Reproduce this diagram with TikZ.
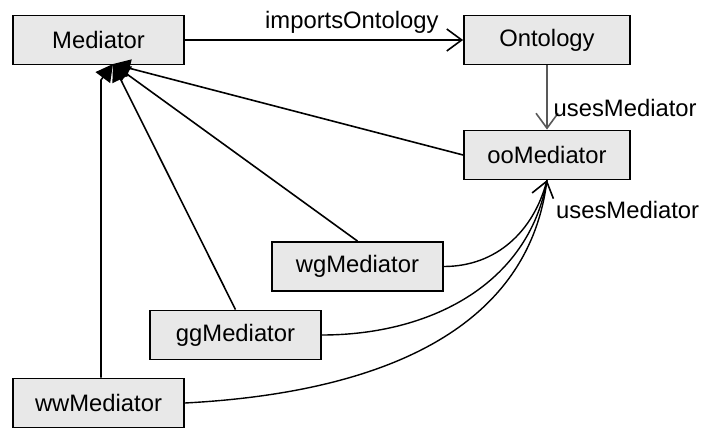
\documentclass[tikz,border=0pt]{standalone}
\usepackage{fontspec}
\setmainfont{Liberation Sans}
\usetikzlibrary{arrows.meta}
\begin{document}
\begin{tikzpicture}[x=1pt,y=-1pt,
  font=\fontsize{23.8}{28}\selectfont,
  box/.style={draw,line width=1.8pt,fill=black!9,inner sep=0pt,minimum height=49pt},
  open/.style={-{Straight Barb[length=15pt,width=22pt,line width=1.6pt]}},
  gen/.style={-{Triangle[length=17pt,width=18pt]},line width=1.6pt},
  lbl/.style={inner sep=0pt}]
\useasboundingbox (0,0) rectangle (701,430);
\node[box,minimum width=171pt] (med) at (98.5,40) {Mediator};
\node[box,minimum width=166pt] (ont) at (547,40) {Ontology};
\node[box,minimum width=166pt] (oom) at (547,155) {ooMediator};
\node[box,minimum width=171pt] (wgm) at (357.5,266.5) {wgMediator};
\node[box,minimum width=171pt] (ggm) at (235.5,335) {ggMediator};
\node[box,minimum width=171pt] (wwm) at (98.5,403) {wwMediator};
\coordinate (tip) at (113,64);
\coordinate (vbend) at (101,80);
% imports
\draw[open,line width=1.6pt] (med.east) -- node[lbl,above=6pt,pos=0.6] (lab1) {importsOntology} (ont.west);
\draw[open,line width=1.4pt,draw=black!65] (ont.south) -- node[lbl,right=6pt,pos=0.66] (lab2) {usesMediator} (oom.north);
% generalisation lines
\draw[gen] (wwm.north -| vbend) -- (vbend) -- (tip);
\draw[gen] (ggm.north) -- (tip);
\draw[gen] (wgm.north) -- (tip);
\draw[gen] (oom.west) -- (tip);
% uses mediator curves
\coordinate (oob) at (547,180);
\draw[open,line width=1.4pt] (wgm.east) to[out=0,in=-105] (oob);
\draw[line width=1.4pt] (ggm.east) to[out=0,in=-100] (oob);
\draw[line width=1.4pt] (wwm.east) to[out=3,in=-97] (oob);
\node[lbl,anchor=west] (lab3) at (556,210) {usesMediator};
\end{tikzpicture}
\end{document}
